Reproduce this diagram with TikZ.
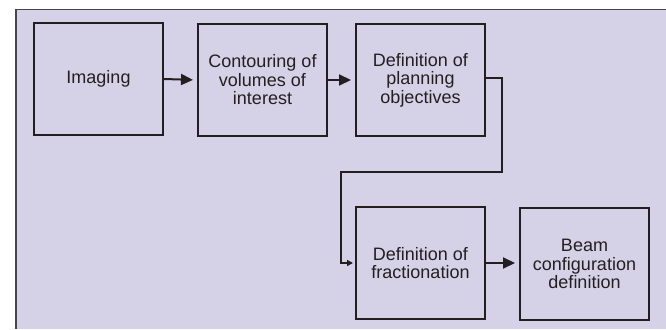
\documentclass[tikz,border=0pt]{standalone}
\usepackage{fontspec}
\setmainfont{Liberation Sans}
\usetikzlibrary{arrows.meta}
\definecolor{panelfill}{RGB}{213,210,232}
\definecolor{inkgray}{RGB}{35,31,32}
\definecolor{frameline}{RGB}{70,68,78}
\tikzset{
  stepbox/.style={draw=inkgray, line width=2pt, fill=panelfill,
    minimum width=129pt, minimum height=112pt, inner sep=0pt, align=center,
    font=\fontsize{18}{18.5}\selectfont, text=inkgray},
  flow/.style={draw=inkgray, line width=2pt,
    -{Triangle[length=12pt, width=11pt]}, shorten >=4pt},
  flowbend/.style={draw=inkgray, line width=2pt,
    -{Triangle[length=6pt, width=6pt]}, shorten >=2pt},
}
\begin{document}
\begin{tikzpicture}[x=1pt, y=-1pt]
  \useasboundingbox (0,0) rectangle (666,329);
  % panel
  \fill[panelfill] (16,9.5) rectangle (666,329);
  \draw[frameline, line width=1.5pt] (16,329) -- (16,9.5) -- (666,9.5);

  \node[stepbox] (imaging) at (98.5,79) {Imaging};
  \node[stepbox] (contour) at (262.5,80) {Contouring of\\volumes of\\interest};
  \node[stepbox] (planning) at (420.5,80) {Definition of\\planning\\objectives};
  \node[stepbox] (fraction) at (420.5,263) {Definition of\\fractionation};
  \node[stepbox] (beam) at (584.5,264) {Beam\\configuration\\definition};

  \coordinate (bendA) at (502,172);
  \coordinate (bendB) at (341,172);

  \draw[flow] (imaging.east) -- (contour.west);
  \draw[flow] (contour.east) -- (planning.west);
  \draw[flowbend] ([yshift=2pt]planning.east) -| (bendA) -- (bendB) |- (fraction.west);
  \draw[flow] (fraction.east) -- (beam.west |- fraction.east);
\end{tikzpicture}
\end{document}
